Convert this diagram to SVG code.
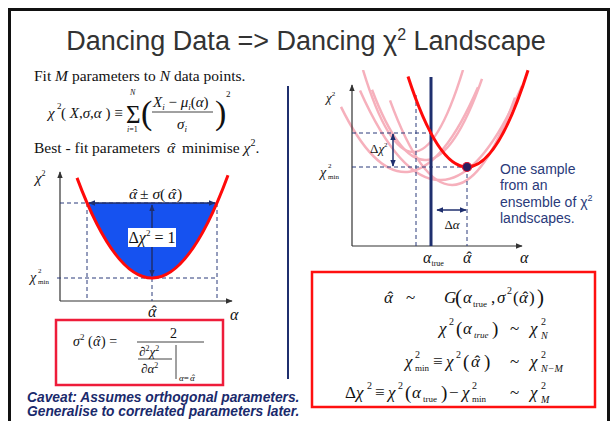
<svg xmlns="http://www.w3.org/2000/svg" width="611" height="421" viewBox="0 0 611 421">
<defs>
<style>
.s{font-family:"Liberation Serif","Times New Roman",serif;fill:#111}
.i{font-style:italic}
.n{font-style:normal}
.sans{font-family:"Liberation Sans",Arial,sans-serif}
.ax{stroke:#333;stroke-width:1.2;fill:none}
.dash{stroke:#2a3a7a;stroke-width:1;stroke-dasharray:4 3;fill:none}
.nav{stroke:#1f2f6e;stroke-width:1.5;fill:none}
.pink{stroke:#f6b0bc;stroke-width:2.5;fill:none}
.red{stroke:#ff0a0a;stroke-width:3;fill:none}
.box{stroke:#ee1c3a;stroke-width:2.5;fill:none}
</style>
<marker id="ah" viewBox="0 0 10 10" refX="9" refY="5" markerWidth="7" markerHeight="7" orient="auto-start-reverse" markerUnits="userSpaceOnUse"><path d="M0,1 L10,5 L0,9 Z" fill="#333"/></marker>
<marker id="nh" viewBox="0 0 10 10" refX="9" refY="5" markerWidth="7" markerHeight="7" orient="auto-start-reverse" markerUnits="userSpaceOnUse"><path d="M0,1 L10,5 L0,9 Z" fill="#1f2f6e"/></marker>
<clipPath id="top"><rect x="300" y="70" width="250" height="200"/></clipPath>
</defs>
<rect width="611" height="421" fill="#fff"/>
<rect x="9.5" y="9.5" width="599" height="430" fill="none" stroke="#111" stroke-width="3"/>

<g id="title"><text x="306" y="50" text-anchor="middle" class="sans" font-size="27" fill="#333">Dancing Data =&gt; Dancing χ<tspan font-size="16" dy="-10">2</tspan><tspan dy="10"> Landscape</tspan></text></g>

<g id="divider"><line x1="288" y1="86" x2="288" y2="379" stroke="#1f2f6e" stroke-width="2"/></g>

<g id="intro" class="s" font-size="15.5">
<text x="34" y="81">Fit <tspan class="i">M</tspan> parameters to <tspan class="i">N</tspan> data points.</text>
<text y="153"><tspan x="34">Best - fit parameters</tspan><tspan x="167" class="i">α</tspan><tspan x="170.4">ˆ</tspan><tspan x="182">minimise </tspan><tspan class="i">χ</tspan><tspan font-size="10" dy="-7">2</tspan><tspan dy="7">.</tspan></text>
</g>

<g id="chi2-formula" class="s" font-size="15">
<text><tspan x="48" y="118" class="i">χ</tspan><tspan x="57" y="109" font-size="9">2</tspan><tspan x="61" y="118">( </tspan><tspan class="i">X</tspan>,<tspan class="i">σ</tspan>,<tspan class="i">α</tspan> ) ≡</text>
<text><tspan x="126" y="123" font-size="25">Σ</tspan><tspan x="130" y="95" font-size="8" class="i">N</tspan><tspan x="127" y="132" font-size="8" class="i">i</tspan><tspan font-size="8">=1</tspan></text>
<text x="141" y="124" font-size="34">(</text>
<text x="153" y="107"><tspan class="i">X</tspan><tspan font-size="9" class="i" dy="3">i</tspan><tspan dy="-3"> − </tspan><tspan class="i">μ</tspan><tspan font-size="9" class="i" dy="3">i</tspan><tspan dy="-3">(</tspan><tspan class="i">α</tspan>)</text>
<line x1="152" y1="112" x2="213" y2="112" stroke="#111" stroke-width="0.8"/>
<text x="177" y="129" class="i">σ<tspan font-size="9" dy="3">i</tspan></text>
<text><tspan x="215" y="124" font-size="34">)</tspan><tspan x="226" y="97" font-size="9">2</tspan></text>
</g>

<g id="left-graph">
<path d="M87.1,203 Q152,353 216.9,203 Z" fill="#1652f0"/>
<line class="ax" x1="60" y1="301" x2="60" y2="172" marker-end="url(#ah)"/>
<line class="ax" x1="60" y1="301" x2="232" y2="301" marker-end="url(#ah)"/>
<line class="dash" x1="60" y1="203" x2="217" y2="203"/>
<line class="dash" x1="57" y1="278" x2="217" y2="278"/>
<line class="dash" x1="87" y1="203" x2="87" y2="301"/>
<line class="dash" x1="217" y1="203" x2="217" y2="301"/>
<line class="dash" x1="152" y1="278" x2="152" y2="301"/>
<path class="red" d="M77,177.9 Q152.5,379.5 228,175.2"/>
<line class="nav" x1="89" y1="203" x2="215" y2="203" marker-start="url(#nh)" marker-end="url(#nh)"/>
<line class="nav" x1="152" y1="205" x2="152" y2="276" marker-start="url(#nh)" marker-end="url(#nh)"/>
<rect x="128" y="228" width="48" height="19" fill="#fff"/>
<text x="152" y="243" text-anchor="middle" class="s" font-size="16">Δ<tspan class="i">χ</tspan><tspan font-size="9" dy="-7">2</tspan><tspan dy="7"> = 1</tspan></text>
<text class="s" font-size="15.5" y="199"><tspan x="129" class="i">α</tspan><tspan x="132.4">ˆ</tspan><tspan x="140">± </tspan><tspan class="i">σ</tspan>(<tspan x="168" class="i">α</tspan><tspan x="171.4">ˆ</tspan><tspan x="177">)</tspan></text>
<text class="s i" font-size="15"><tspan x="35" y="183">χ</tspan><tspan class="n" font-size="8" dy="-7">2</tspan></text>
<text class="s"><tspan x="30" y="282" class="i" font-size="14">χ</tspan><tspan x="38" y="273" font-size="7">2</tspan><tspan x="38" y="284" font-size="7">min</tspan></text>
<text class="s" font-size="16" y="317"><tspan x="148" class="i">α</tspan><tspan x="151.5">ˆ</tspan></text>
<text x="230" y="320" class="s i" font-size="16">α</text>
</g>

<g id="sigma-box">
<rect class="box" x="56" y="320" width="167" height="65"/>
<text class="s" font-size="14" y="346"><tspan x="73" class="i">σ</tspan><tspan font-size="9" dy="-6">2</tspan><tspan dy="6"> (</tspan><tspan x="93" class="i">α</tspan><tspan x="96">ˆ</tspan><tspan x="101">) =</tspan></text>
<text x="170" y="338" class="s" font-size="14">2</text>
<line x1="137" y1="342" x2="204" y2="342" stroke="#111" stroke-width="0.8"/>
<text x="139" y="356" class="s" font-size="13">∂<tspan font-size="8" dy="-5">2</tspan><tspan dy="5" class="i">χ</tspan><tspan font-size="8" dy="-5">2</tspan></text>
<line x1="138" y1="359" x2="172" y2="359" stroke="#111" stroke-width="0.8"/>
<text x="141" y="373" class="s" font-size="13">∂<tspan class="i">α</tspan><tspan font-size="8" dy="-5">2</tspan></text>
<line x1="176" y1="345" x2="176" y2="379" stroke="#111" stroke-width="0.8"/>
<text class="s" font-size="9" y="381"><tspan x="179" class="i">α</tspan>=<tspan x="190" class="i">α</tspan><tspan x="192">ˆ</tspan></text>
</g>

<g id="caveat" class="sans" font-size="13.8" font-weight="bold" font-style="italic" fill="#1a2a6c">
<text x="27" y="402">Caveat: Assumes orthogonal parameters.</text>
<text x="27" y="416">Generalise to correlated parameters later.</text>
</g>

<g id="right-graph">
<g clip-path="url(#top)">
<path class="pink" d="M363,70 Q413,234 463,70"/>
<path class="pink" d="M341,106.9 Q409.5,246.3 478,87.3"/>
<path class="pink" d="M360,90.4 Q441,271.8 522,85.9"/>
<path class="pink" d="M390,100.4 Q452.5,270.9 515,97.7"/>
<path class="pink" d="M372,89.8 Q427,235.5 482,78.8"/>
</g>
<line class="ax" x1="352" y1="246" x2="352" y2="85" marker-end="url(#ah)"/>
<line class="ax" x1="352" y1="246" x2="522" y2="246" marker-end="url(#ah)"/>
<line class="dash" x1="352" y1="133" x2="431" y2="133"/>
<line class="dash" x1="352" y1="167" x2="467" y2="167"/>
<line class="dash" x1="416" y1="95" x2="416" y2="246"/>
<line class="dash" x1="467" y1="167" x2="467" y2="246"/>
<line x1="431" y1="77" x2="431" y2="246" stroke="#1f2f6e" stroke-width="3"/>
<path class="red" d="M408,76.5 Q468,260.6 528,70.3"/>
<circle cx="467" cy="167" r="4.5" fill="#2a1f5e" stroke="#e01030" stroke-width="1.2"/>
<line class="nav" x1="393" y1="134" x2="393" y2="166" marker-start="url(#nh)" marker-end="url(#nh)"/>
<line class="nav" x1="437" y1="210" x2="466" y2="210" marker-start="url(#nh)" marker-end="url(#nh)"/>
<text x="370" y="153" class="s" font-size="13">Δ<tspan class="i">χ</tspan><tspan font-size="7" dy="-6">2</tspan></text>
<text x="452" y="229" text-anchor="middle" class="s" font-size="13">Δ<tspan class="i">α</tspan></text>
<text x="326" y="102" class="s i" font-size="13">χ<tspan font-size="7" dy="-6" class="n">2</tspan></text>
<text class="s"><tspan x="320" y="177" class="i" font-size="14">χ</tspan><tspan x="328" y="168" font-size="7">2</tspan><tspan x="328" y="179" font-size="7">min</tspan></text>
<text x="423" y="263" class="s i" font-size="16">α<tspan font-size="8" dy="3" class="n">true</tspan></text>
<text class="s" font-size="16" y="263"><tspan x="463" class="i">α</tspan><tspan x="466.5">ˆ</tspan></text>
<text x="520" y="263" class="s i" font-size="16">α</text>
<text class="sans" font-size="14" fill="#2a3a7a"><tspan x="500" y="174">One sample</tspan><tspan x="500" y="190">from an</tspan><tspan x="500" y="207">ensemble of χ<tspan font-size="9" dy="-6">2</tspan></tspan><tspan x="500" y="223">landscapes.</tspan></text>
</g>

<g id="dist-box" class="s" font-size="17">
<rect x="312" y="272" width="283" height="135" fill="none" stroke="#ff1010" stroke-width="2.5"/>
<text y="303"><tspan x="384" class="i">α</tspan><tspan x="387.5">ˆ</tspan><tspan x="406">~</tspan><tspan x="444" class="i">G</tspan><tspan x="455" y="304" font-size="21">(</tspan><tspan x="463" y="303" class="i">α</tspan><tspan x="473" y="307" font-size="9">true</tspan><tspan x="491" y="303">,</tspan><tspan x="497" class="i">σ</tspan><tspan x="507" y="294" font-size="10">2</tspan><tspan x="513" y="303">(</tspan><tspan x="519" class="i">α</tspan><tspan x="522.5">ˆ</tspan><tspan x="529">)</tspan><tspan x="537" y="304" font-size="21">)</tspan></text>

<text><tspan x="439" y="334" class="i">χ</tspan><tspan x="449" y="325" font-size="10">2</tspan><tspan x="456" y="335" font-size="19">(</tspan><tspan x="463" y="334" class="i">α</tspan><tspan x="474" y="338" font-size="9" class="i">true</tspan><tspan x="492" y="335" font-size="19">)</tspan><tspan x="510" y="334">~</tspan><tspan x="530" y="334" class="i">χ</tspan><tspan x="541" y="325" font-size="10">2</tspan><tspan x="541" y="339" font-size="10" class="i">N</tspan></text>

<text><tspan x="405" y="367" class="i">χ</tspan><tspan x="415" y="358" font-size="10">2</tspan><tspan x="415" y="371" font-size="9">min</tspan><tspan x="433" y="367">≡</tspan><tspan x="446" class="i">χ</tspan><tspan x="456" y="358" font-size="10">2</tspan><tspan x="463" y="368" font-size="19">(</tspan><tspan x="471" y="367" class="i">α</tspan><tspan x="474.5">ˆ</tspan><tspan x="484" y="368" font-size="19">)</tspan><tspan x="510" y="367">~</tspan><tspan x="530" class="i">χ</tspan><tspan x="541" y="358" font-size="10">2</tspan><tspan x="541" y="372" font-size="10" class="i">N−M</tspan></text>

<text><tspan x="345" y="398">Δ</tspan><tspan class="i">χ</tspan><tspan x="367" y="389" font-size="10">2</tspan><tspan x="375" y="398">≡</tspan><tspan x="388" class="i">χ</tspan><tspan x="398" y="389" font-size="10">2</tspan><tspan x="405" y="399" font-size="19">(</tspan><tspan x="412" y="398" class="i">α</tspan><tspan x="423" y="402" font-size="9">true</tspan><tspan x="441" y="399" font-size="19">)</tspan><tspan x="449" y="398">−</tspan><tspan x="462" class="i">χ</tspan><tspan x="472" y="389" font-size="10">2</tspan><tspan x="472" y="402" font-size="9">min</tspan><tspan x="510" y="398">~</tspan><tspan x="530" class="i">χ</tspan><tspan x="541" y="389" font-size="10">2</tspan><tspan x="541" y="403" font-size="10" class="i">M</tspan></text>
</g>
</svg>
